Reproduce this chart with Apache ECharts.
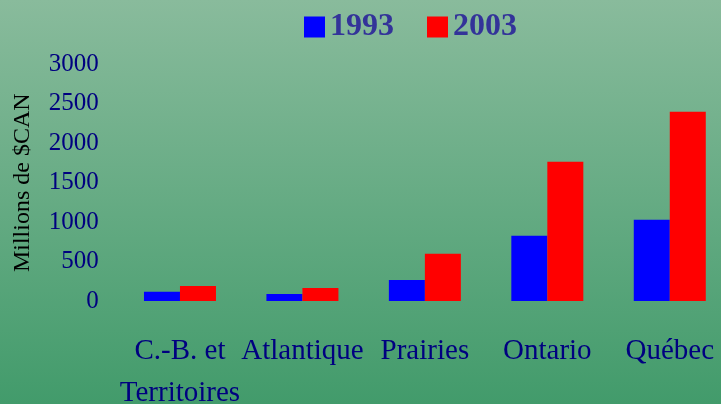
<!DOCTYPE html>
<html><head><meta charset="utf-8">
<script src="https://cdn.jsdelivr.net/npm/echarts@6/dist/echarts.min.js"></script>
<style>html,body{margin:0;padding:0;}#c{width:721px;height:404px;}</style>
</head><body><div id="c"></div>
<script>
const categories = ["C.-B. et\nTerritoires", "Atlantique", "Prairies", "Ontario", "Québec"];
const series1993 = [118, 90, 266, 828, 1031];
const series2003 = [190, 165, 600, 1766, 2400];
const yTicks = [0, 500, 1000, 1500, 2000, 2500, 3000];

const chart = echarts.init(document.getElementById('c'));
chart.setOption({
  animation: false,
  backgroundColor: new echarts.graphic.LinearGradient(0, 0, 0, 1, [
    {offset: 0, color: '#89bb9c'},
    {offset: 1, color: '#429b6b'}
  ]),
  legend: {
    top: 6, left: 299,
    itemWidth: 21, itemHeight: 21, itemGap: 33,
    icon: 'rect',
    textStyle: {fontFamily: 'Liberation Serif', fontWeight: 'bold', fontSize: 32, color: '#333399', padding: [3, 0, 0, 0]},
    data: ['1993', '2003']
  },
  grid: {left: 118.75, right: -10, top: 64.5, bottom: 103, outerBoundsMode: 'none', containLabel: false},
  xAxis: {
    type: 'category', data: categories,
    axisLine: {show: false}, axisTick: {show: false},
    axisLabel: {fontFamily: 'Liberation Serif', fontSize: 29, color: '#000080', margin: 29, lineHeight: 42, interval: 0}
  },
  yAxis: {
    type: 'value', min: yTicks[0], max: yTicks[yTicks.length - 1], interval: 500,
    splitLine: {show: false}, axisLine: {show: false}, axisTick: {show: false},
    axisLabel: {fontFamily: 'Liberation Serif', fontSize: 25, color: '#000080', margin: 20, padding: [10, 0, 0, 0], formatter: v => String(v)},
    name: 'Millions de $CAN', nameLocation: 'middle', nameGap: 84, nameRotate: 90,
    nameTextStyle: {fontFamily: 'Liberation Serif', fontSize: 24, color: '#000000'}
  },
  series: [
    {name: '1993', type: 'bar', data: series1993, barWidth: 36, barGap: '0%', itemStyle: {color: '#0000ff'}},
    {name: '2003', type: 'bar', data: series2003, barWidth: 36, barGap: '0%', itemStyle: {color: '#ff0000'}}
  ]
});
</script></body></html>
